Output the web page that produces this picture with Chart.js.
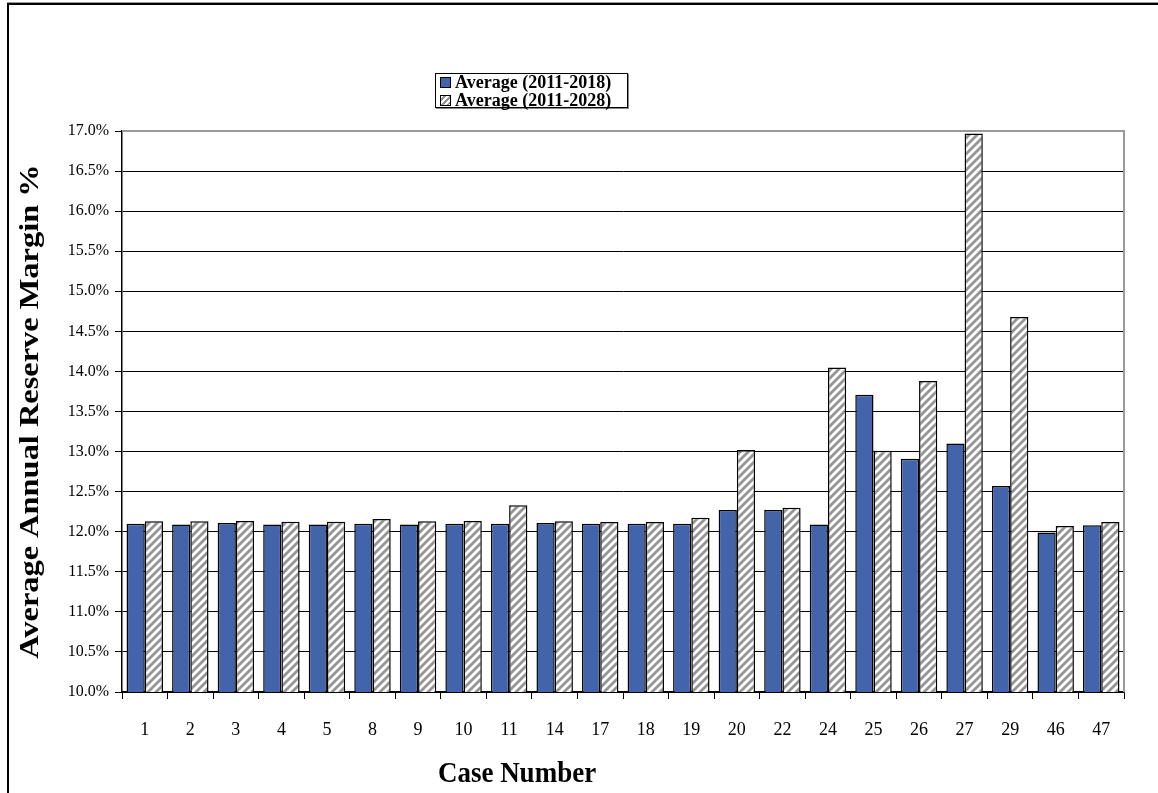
<!DOCTYPE html>
<html>
<head>
<meta charset="utf-8">
<script src="https://cdn.jsdelivr.net/npm/chart.js@4.4.1/dist/chart.umd.min.js"></script>
<style>
  html, body { margin: 0; padding: 0; background: #fff; }
  #wrap { position: relative; width: 1158px; height: 793px; overflow: hidden; }
  #frame {
    position: absolute; left: 7px; top: 3px; width: 1300px; height: 900px;
    border-left: 2px solid #000; border-top: 2px solid #000;
    box-shadow: 0 -1px 0 #999;
  }
  #legend {
    position: absolute; left: 435px; top: 73px; width: 191px; height: 33px;
    border: 1.5px solid #000; background: #fff; box-shadow: 1px 1px 0 #888;
    font: bold 18px "Liberation Serif", serif; color: #000;
  }
  .item { position: absolute; left: 4px; height: 17px; line-height: 17px; white-space: nowrap; }
  .swatch {
    display: inline-block; width: 9px; height: 9px; border: 1px solid #000;
    margin-right: 4px; vertical-align: 0px;
  }
  canvas { position: absolute; left: 0; top: 0; }
</style>
</head>
<body>
<div id="wrap">
  <div id="frame"></div>
  <canvas id="chart" width="1158" height="793"></canvas>
  <div id="legend"></div>
</div>
<script>
const cases = ["1", "2", "3", "4", "5", "8", "9", "10", "11", "14", "17", "18", "19", "20", "22", "24", "25", "26", "27", "29", "46", "47"];
const avgTo2018 = [12.10, 12.09, 12.11, 12.09, 12.09, 12.10, 12.09, 12.10, 12.10, 12.11, 12.10, 12.10, 12.10, 12.27, 12.27, 12.09, 13.71, 12.91, 13.10, 12.57, 11.99, 12.08];
const avgTo2028 = [12.13, 12.13, 12.135, 12.125, 12.125, 12.16, 12.13, 12.135, 12.33, 12.13, 12.12, 12.12, 12.175, 13.02, 12.30, 14.05, 13.01, 13.88, 16.97, 14.68, 12.07, 12.12];
const seriesLabels = ["Average (2011-2018)", "Average (2011-2028)"];
const xTitle = "Case Number";
const yTitle = "Average Annual Reserve Margin %";
const yMin = 10;
const yMax = 17;
const yStep = 0.5;

const serif = "'Liberation Serif', 'Times New Roman', serif";
const blue = "#4264ab";

function makeHatch() {
  const size = 8;
  const tile = document.createElement("canvas");
  tile.width = size;
  tile.height = size;
  const c = tile.getContext("2d");
  c.fillStyle = "#fff";
  c.fillRect(0, 0, size, size);
  c.strokeStyle = "#959595";
  c.lineWidth = 2.8;
  for (const off of [-size, 0, size]) {
    c.beginPath();
    c.moveTo(off - 1, size + 1);
    c.lineTo(off + size + 1, -1);
    c.stroke();
  }
  return c.createPattern(tile, "repeat");
}

// gray border on top and right of the plot area, like the Excel plot frame
const plotFrame = {
  id: "plotFrame",
  beforeDatasetsDraw(chart) {
    const { ctx, chartArea: a } = chart;
    ctx.save();
    ctx.strokeStyle = "#9a9a9a";
    ctx.lineWidth = 2;
    ctx.beginPath();
    ctx.moveTo(a.left, a.top);
    ctx.lineTo(a.right, a.top);
    ctx.lineTo(a.right, a.bottom);
    ctx.stroke();
    ctx.restore();
  },
};

// axis titles: the source picture is a bit stretched, so draw them by hand
const axisTitles = {
  id: "axisTitles",
  afterDraw(chart) {
    const { ctx, chartArea: a } = chart;
    ctx.save();
    ctx.fillStyle = "#000";
    ctx.font = `bold 27px ${serif}`;
    ctx.textAlign = "center";
    ctx.textBaseline = "middle";

    ctx.save();
    ctx.translate(31, (a.top + a.bottom) / 2);
    ctx.rotate(-Math.PI / 2);
    ctx.scale(1.2, 1);
    ctx.fillText(yTitle, 0, 0);
    ctx.restore();

    ctx.save();
    ctx.translate(517, 774);
    ctx.scale(1, 1.1);
    ctx.fillText(xTitle, 0, 0);
    ctx.restore();

    ctx.restore();
  },
};

function buildLegend(fills) {
  const legend = document.getElementById("legend");
  seriesLabels.forEach((label, i) => {
    const item = document.createElement("div");
    item.className = "item";
    item.style.top = (i === 0 ? 0 : 18) + "px";
    const sw = document.createElement("span");
    sw.className = "swatch";
    sw.style.background = fills[i];
    item.appendChild(sw);
    item.appendChild(document.createTextNode(label));
    legend.appendChild(item);
  });
}

const hatch = makeHatch();
buildLegend([blue, "repeating-linear-gradient(135deg, #fff 0 2px, #959595 2px 4px)"]);

const ctx = document.getElementById("chart").getContext("2d");
new Chart(ctx, {
  type: "bar",
  data: {
    labels: cases,
    datasets: [
      {
        label: seriesLabels[0],
        data: avgTo2018,
        backgroundColor: blue,
        borderColor: "#000",
        borderWidth: 1.5,
        borderSkipped: false,
      },
      {
        label: seriesLabels[1],
        data: avgTo2028,
        backgroundColor: hatch,
        borderColor: "#000",
        borderWidth: 1.5,
        borderSkipped: false,
      },
    ],
  },
  options: {
    responsive: false,
    animation: false,
    devicePixelRatio: 1,
    categoryPercentage: 0.8,
    barPercentage: 1.0,
    layout: { padding: { top: 131, right: 34, left: 0, bottom: 0 } },
    plugins: {
      legend: { display: false },
      tooltip: { enabled: false },
    },
    scales: {
      x: {
        afterFit: (s) => { s.height = 101; },
        grid: {
          offset: true,
          drawOnChartArea: false,
          drawTicks: true,
          tickLength: 7,
          tickColor: "#000",
          tickWidth: 1,
        },
        border: { display: true, color: "#000", width: 1.5 },
        ticks: {
          color: "#000",
          padding: 20,
          font: { family: serif, size: 18 },
          maxRotation: 0,
          autoSkip: false,
        },
      },
      y: {
        min: yMin,
        max: yMax,
        afterFit: (s) => { s.width = 122; },
        grid: {
          color: (c) => (c.tick && c.tick.value === yMax ? "rgba(0,0,0,0)" : "#000"),
          lineWidth: 1,
          drawTicks: true,
          tickLength: 7,
          tickColor: "#000",
        },
        border: { display: true, color: "#000", width: 1.5 },
        ticks: {
          stepSize: yStep,
          color: "#000",
          padding: 6,
          font: { family: serif, size: 16 },
          callback: (v) => v.toFixed(1) + "%",
        },
      },
    },
  },
  plugins: [plotFrame, axisTitles],
});
</script>
</body>
</html>
